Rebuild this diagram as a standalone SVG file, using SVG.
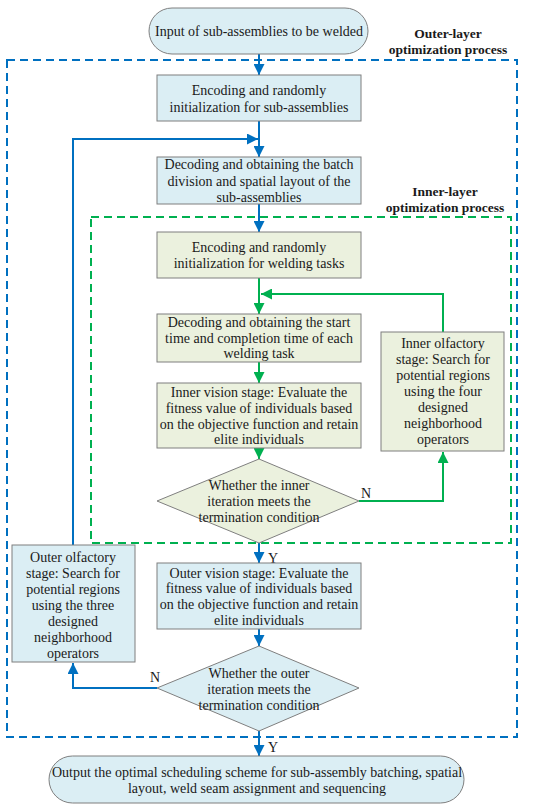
<svg xmlns="http://www.w3.org/2000/svg" width="550" height="811" viewBox="0 0 550 811">
<style>
text{font-family:"Liberation Serif","Times New Roman",serif;font-size:14px;fill:#1a1a1a;text-anchor:middle}
.b{font-weight:bold;font-size:13.5px}
.bf{fill:#dbeef4;stroke:#7f7f7f;stroke-width:1}
.gf{fill:#ebf1de;stroke:#7f7f7f;stroke-width:1}
.bl{fill:none;stroke:#0070c0;stroke-width:2}
.gl{fill:none;stroke:#00b050;stroke-width:2}
</style>
<defs>
<marker id="ab" viewBox="0 0 10 10" refX="10" refY="5" markerWidth="5.5" markerHeight="5.5" orient="auto" markerUnits="strokeWidth"><path d="M0,0L10,5L0,10z" fill="#0070c0"/></marker>
<marker id="ag" viewBox="0 0 10 10" refX="10" refY="5" markerWidth="5.5" markerHeight="5.5" orient="auto" markerUnits="strokeWidth"><path d="M0,0L10,5L0,10z" fill="#00b050"/></marker>
</defs>
<g id="frames">
<rect x="7" y="60" width="510" height="677" fill="none" stroke="#0070c0" stroke-width="2" stroke-dasharray="8,5"/>
<text class="b" x="448" y="38">Outer-layer</text>
<text class="b" x="448" y="54">optimization process</text>
<rect x="91" y="217" width="420" height="326" fill="none" stroke="#00b050" stroke-width="2" stroke-dasharray="8,5"/>
<text class="b" x="445" y="196">Inner-layer</text>
<text class="b" x="445" y="212">optimization process</text>
</g>
<g id="connectors">
<path class="bl" d="M259,54V75" marker-end="url(#ab)"/>
<path class="bl" d="M259,121V157" marker-end="url(#ab)"/>
<path class="bl" d="M73,545V139H258" marker-end="url(#ab)"/>
<path class="bl" d="M259,204V232" marker-end="url(#ab)"/>
<path class="gl" d="M259,278V314" marker-end="url(#ag)"/>
<path class="gl" d="M443,332V294H261" marker-end="url(#ag)"/>
<path class="gl" d="M259,362V383" marker-end="url(#ag)"/>
<path class="gl" d="M259,448V459" marker-end="url(#ag)"/>
<path class="gl" d="M359,501H443V452" marker-end="url(#ag)"/>
<path class="bl" d="M259,543V563" marker-end="url(#ab)"/>
<path class="bl" d="M259,629V646" marker-end="url(#ab)"/>
<path class="bl" d="M157,688H73V663" marker-end="url(#ab)"/>
<path class="bl" d="M259,731V756" marker-end="url(#ab)"/>
<text x="366" y="498">N</text>
<text x="273" y="563">Y</text>
<text x="155" y="682">N</text>
<text x="273" y="752">Y</text>
</g>
<g id="start">
<rect class="bf" x="149" y="8" width="219" height="46" rx="23"/>
<text x="259" y="36">Input of sub-assemblies to be welded</text>
</g>
<g id="encode-sub">
<rect class="bf" x="157" y="75" width="204" height="46"/>
<text x="259" y="95">Encoding and randomly</text>
<text x="259" y="112">initialization for sub-assemblies</text>
</g>
<g id="decode-sub">
<rect class="bf" x="157" y="157" width="204" height="47"/>
<text x="259" y="169">Decoding and obtaining the batch</text>
<text x="259" y="186">division and spatial layout of the</text>
<text x="259" y="202">sub-assemblies</text>
</g>
<g id="encode-task">
<rect class="gf" x="157" y="232" width="204" height="46"/>
<text x="259" y="252">Encoding and randomly</text>
<text x="259" y="268">initialization for welding tasks</text>
</g>
<g id="decode-task">
<rect class="gf" x="157" y="314" width="204" height="48"/>
<text x="259" y="327">Decoding and obtaining the start</text>
<text x="259" y="343">time and completion time of each</text>
<text x="259" y="358">welding task</text>
</g>
<g id="inner-vision">
<rect class="gf" x="157" y="383" width="204" height="65"/>
<text x="259" y="397">Inner vision stage: Evaluate the</text>
<text x="259" y="413">fitness value of individuals based</text>
<text x="259" y="429">on the objective function and retain</text>
<text x="259" y="444">elite individuals</text>
</g>
<g id="inner-check">
<polygon class="gf" points="259,459 359,501 259,543 157,501"/>
<text x="259" y="490">Whether the inner</text>
<text x="259" y="506">iteration meets the</text>
<text x="259" y="522">termination condition</text>
</g>
<g id="inner-olfactory">
<rect class="gf" x="381" y="332" width="123" height="119"/>
<text x="443" y="348">Inner olfactory</text>
<text x="443" y="364">stage: Search for</text>
<text x="443" y="380">potential regions</text>
<text x="443" y="396">using the four</text>
<text x="443" y="412">designed</text>
<text x="443" y="428">neighborhood</text>
<text x="443" y="444">operators</text>
</g>
<g id="outer-vision">
<rect class="bf" x="157" y="563" width="204" height="66"/>
<text x="259" y="578">Outer vision stage: Evaluate the</text>
<text x="259" y="593">fitness value of individuals based</text>
<text x="259" y="609">on the objective function and retain</text>
<text x="259" y="625">elite individuals</text>
</g>
<g id="outer-check">
<polygon class="bf" points="259,646 359,688 259,731 157,688"/>
<text x="259" y="678">Whether the outer</text>
<text x="259" y="694">iteration meets the</text>
<text x="259" y="710">termination condition</text>
</g>
<g id="outer-olfactory">
<rect class="bf" x="12" y="545" width="123" height="117"/>
<text x="73" y="562">Outer olfactory</text>
<text x="73" y="578">stage: Search for</text>
<text x="73" y="594">potential regions</text>
<text x="73" y="610">using the three</text>
<text x="73" y="626">designed</text>
<text x="73" y="642">neighborhood</text>
<text x="73" y="658">operators</text>
</g>
<g id="end">
<rect class="bf" x="49" y="756" width="415" height="47" rx="23.5"/>
<text x="257" y="777">Output the optimal scheduling scheme for sub-assembly batching, spatial</text>
<text x="257" y="793">layout, weld seam assignment and sequencing</text>
</g>
</svg>
